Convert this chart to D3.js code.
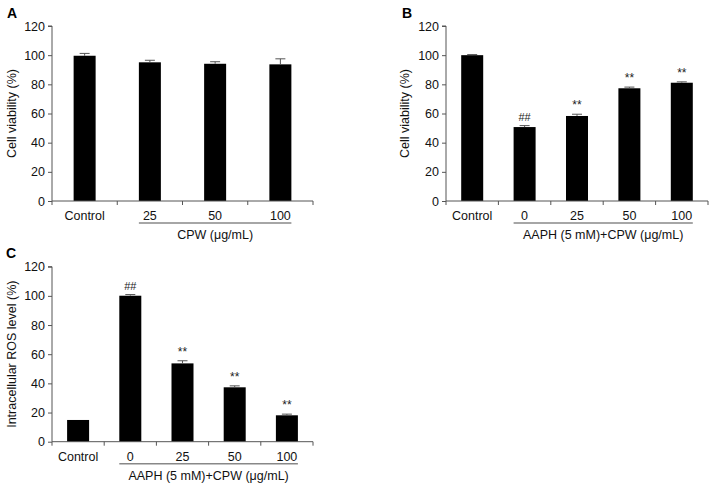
<!DOCTYPE html>
<html><head><meta charset="utf-8">
<script src="https://cdn.jsdelivr.net/npm/d3@7"></script>
<style>
body{margin:0;background:#fff;}
svg{display:block;font-family:"Liberation Sans",Arial,sans-serif;}
</style></head>
<body>
<svg id="chart" width="713" height="488"></svg>
<script>
// ---- Data ----
const categoriesA = ["Control", "25", "50", "100"];
const valuesA = [99.6, 95.1, 94.1, 93.7];
const errorsA = [1.6, 1.4, 1.4, 3.8];
const marksA = ["", "", "", ""];
const groupLabelA = "CPW (\u03bcg/mL)";

const categoriesB = ["Control", "0", "25", "50", "100"];
const valuesB = [100, 50.7, 58.3, 77.3, 81.1];
const errorsB = [0.4, 1.0, 1.2, 0.8, 0.6];
const marksB = ["", "##", "**", "**", "**"];
const groupLabelB = "AAPH (5 mM)+CPW (\u03bcg/mL)";

const categoriesC = ["Control", "0", "25", "50", "100"];
const valuesC = [14.9, 100.1, 53.7, 37.3, 18.1];
const errorsC = [0, 0.8, 1.8, 1.0, 0.8];
const marksC = ["", "##", "**", "**", "**"];
const groupLabelC = "AAPH (5 mM)+CPW (\u03bcg/mL)";

const yTicks = [0, 20, 40, 60, 80, 100, 120];

// ---- Drawing ----
const svg = d3.select("#chart");

function panel(o) {
  const g = svg.append("g");
  const x = d3.scaleBand().domain(o.cats).range([o.x0, o.x1]).paddingInner(0).paddingOuter(0);
  const y = d3.scaleLinear().domain([0, 120]).range([o.y0, o.y1]);
  const barW = 22;

  // bars
  g.selectAll("rect.bar").data(o.vals).enter().append("rect")
    .attr("x", (d, i) => x(o.cats[i]) + x.bandwidth() / 2 - barW / 2)
    .attr("y", d => y(d))
    .attr("width", barW)
    .attr("height", d => y(0) - y(d))
    .attr("fill", "#000");

  // error bars
  o.vals.forEach((v, i) => {
    if (!o.errs[i]) return;
    const cx = x(o.cats[i]) + x.bandwidth() / 2;
    g.append("line").attr("x1", cx).attr("x2", cx)
      .attr("y1", y(v)).attr("y2", y(v + o.errs[i]))
      .attr("stroke", "#555").attr("stroke-width", 1);
    g.append("line").attr("x1", cx - 5).attr("x2", cx + 5)
      .attr("y1", y(v + o.errs[i])).attr("y2", y(v + o.errs[i]))
      .attr("stroke", "#555").attr("stroke-width", 1);
  });

  // significance marks
  o.vals.forEach((v, i) => {
    if (!o.marks[i]) return;
    const cx = x(o.cats[i]) + x.bandwidth() / 2;
    g.append("text").attr("x", cx).attr("y", y(v + o.errs[i]) - 5)
      .attr("text-anchor", "middle").attr("font-size", o.marks[i] === "##" ? 11 : 12)
      .attr("fill", "#222").text(o.marks[i]);
  });

  // y axis
  const ya = g.append("g").attr("transform", `translate(${o.x0},0)`)
    .call(d3.axisLeft(y).tickValues(yTicks).tickSize(4).tickPadding(3));
  ya.select(".domain").attr("stroke", "#555").attr("d", `M-4,${y(120)}H0V${y(0)}`);
  ya.selectAll(".tick line").attr("stroke", "#555");
  ya.selectAll(".tick text").attr("font-size", 12.5).attr("fill", "#111")
    .attr("font-family", "Liberation Sans, Arial, sans-serif");

  // x axis
  const xa = g.append("g").attr("transform", `translate(0,${o.y0})`);
  xa.append("line").attr("x1", o.x0).attr("x2", o.x1).attr("y1", 0).attr("y2", 0)
    .attr("stroke", "#555").attr("stroke-width", 1);
  const boundaries = o.cats.map(c => x(c)).concat([o.x1]);
  boundaries.forEach(b => {
    xa.append("line").attr("x1", b).attr("x2", b).attr("y1", 0).attr("y2", 4)
      .attr("stroke", "#555");
  });
  o.cats.forEach(c => {
    xa.append("text").attr("x", x(c) + x.bandwidth() / 2).attr("y", 19)
      .attr("text-anchor", "middle").attr("font-size", 12.5).attr("fill", "#111").text(c);
  });

  // group underline and label
  const gStart = x(o.cats[1]) + x.bandwidth() / 2 - 11;
  const gEnd = x(o.cats[o.cats.length - 1]) + x.bandwidth() / 2 + 11;
  xa.append("line").attr("x1", gStart).attr("x2", gEnd).attr("y1", 22).attr("y2", 22)
    .attr("stroke", "#888").attr("stroke-width", 1.5);
  xa.append("text").attr("x", (gStart + gEnd) / 2).attr("y", 38)
    .attr("text-anchor", "middle").attr("font-size", 12.5).attr("fill", "#111").text(o.group);

  // y label
  g.append("text")
    .attr("transform", `translate(${o.ylabX},${(o.y0 + o.y1) / 2}) rotate(-90)`)
    .attr("text-anchor", "middle").attr("font-size", 12.5).attr("fill", "#111").text(o.ylab);

  // panel letter
  g.append("text").attr("x", o.lx).attr("y", o.ly)
    .attr("font-size", 14).attr("font-weight", "bold").attr("fill", "#000").text(o.letter);
}

panel({cats: categoriesA, vals: valuesA, errs: errorsA, marks: marksA, group: groupLabelA,
  x0: 52, x1: 313, y0: 201, y1: 26, ylabX: 16, ylab: "Cell viability (%)", letter: "A", lx: 7, ly: 18});
panel({cats: categoriesB, vals: valuesB, errs: errorsB, marks: marksB, group: groupLabelB,
  x0: 446, x1: 708, y0: 201, y1: 26, ylabX: 409, ylab: "Cell viability (%)", letter: "B", lx: 402, ly: 18});
panel({cats: categoriesC, vals: valuesC, errs: errorsC, marks: marksC, group: groupLabelC,
  x0: 52, x1: 313, y0: 441.7, y1: 266.7, ylabX: 16, ylab: "Intracellular ROS level (%)", letter: "C", lx: 6, ly: 258});
</script>
</body></html>
